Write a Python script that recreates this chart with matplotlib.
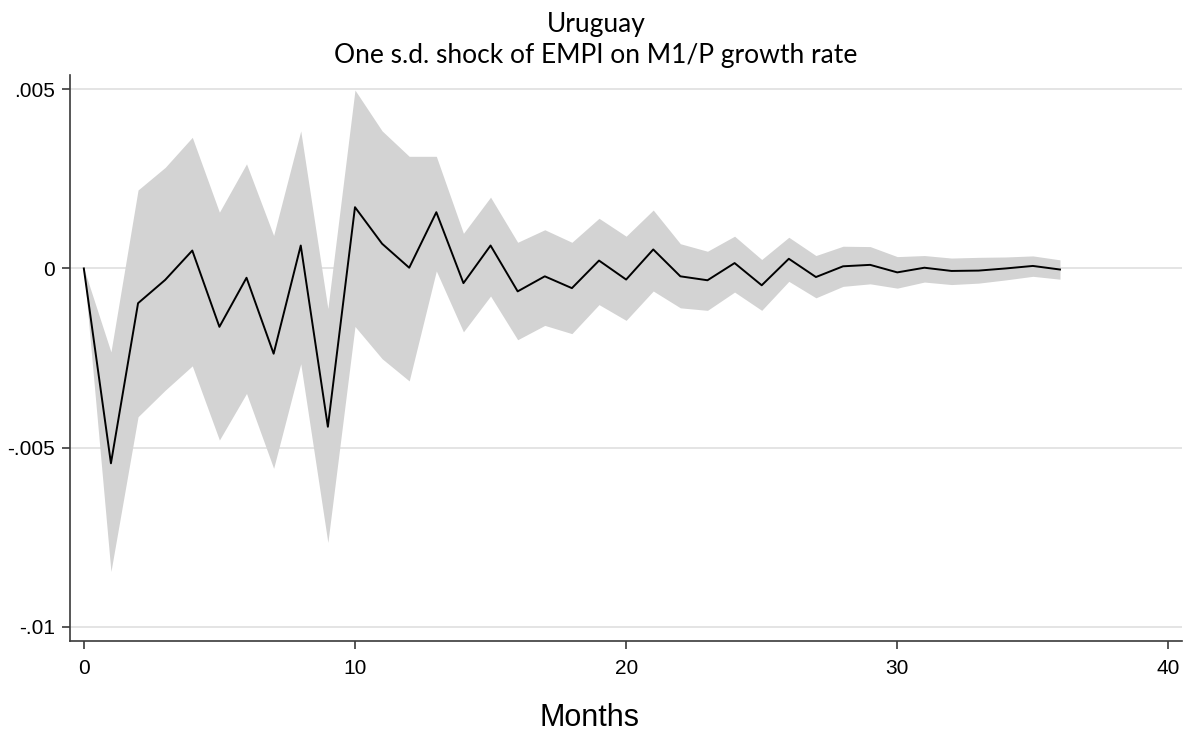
import numpy as np
import matplotlib.pyplot as plt

# impulse response of M1/P growth rate to one s.d. EMPI shock (Uruguay)
months = list(range(37))
irf = [0.0, -0.00544, -0.00097, -0.00032, 0.0005, -0.00163, -0.00026, -0.00238, 0.00064, -0.00442,
       0.00171, 0.00069, 0.00002, 0.00157, -0.00041, 0.00064, -0.00064, -0.00022, -0.00055, 0.00022,
       -0.00031, 0.00053, -0.00022, -0.00033, 0.00015, -0.00047, 0.00027, -0.00024, 0.00006, 0.0001,
       -0.00011, 0.00002, -0.00007, -0.00006, 0.0, 0.00007, -0.00003]
upper = [0.0, -0.00233, 0.00219, 0.00282, 0.00366, 0.00157, 0.00292, 0.00092, 0.00384, -0.00112,
         0.00498, 0.00384, 0.00313, 0.00313, 0.00098, 0.00199, 0.00073, 0.00108, 0.00073, 0.0014,
         0.0009, 0.00163, 0.00069, 0.00048, 0.0009, 0.00025, 0.00087, 0.00036, 0.00062, 0.00061,
         0.00033, 0.00036, 0.00029, 0.00031, 0.00032, 0.00035, 0.00024]
lower = [0.0, -0.00846, -0.00414, -0.0034, -0.00272, -0.00479, -0.00349, -0.00558, -0.00266, -0.00765,
         -0.00162, -0.00252, -0.00314, -0.00007, -0.00177, -0.00077, -0.00199, -0.00159, -0.00182, -0.00101,
         -0.00145, -0.00063, -0.0011, -0.00117, -0.00066, -0.00117, -0.00036, -0.00082, -0.0005, -0.00043,
         -0.00055, -0.00038, -0.00045, -0.00041, -0.00032, -0.00022, -0.0003]

xticks = [0, 10, 20, 30, 40]
yticks = [0.005, 0, -0.005, -0.01]
ylabels = ['.005', '0', '-.005', '-.01']

plt.rcParams['font.family'] = ['Liberation Sans', 'DejaVu Sans']

fig = plt.figure(figsize=(11.92, 7.42), dpi=100)
ax = fig.add_axes([70 / 1192, 1 - 641 / 742, 1112 / 1192, 566 / 742])

ax.fill_between(months, lower, upper, color='#d3d3d3', linewidth=0, zorder=2)
ax.plot(months, irf, color='black', linewidth=1.4, zorder=3)

ax.set_xlim(-0.51, 40.5)
ax.set_ylim(-0.0104, 0.0054)
ax.set_xticks(xticks)
ax.set_yticks(yticks)
ax.set_yticklabels(ylabels)
ax.grid(axis='y', color='#dcdcdc', linewidth=1.1, zorder=1)
ax.grid(axis='x', visible=False)

for s in ['top', 'right']:
    ax.spines[s].set_visible(False)
for s in ['left', 'bottom']:
    ax.spines[s].set_color('#3a3a3a')
    ax.spines[s].set_linewidth(1.2)
ax.tick_params(axis='both', colors='#3a3a3a', labelcolor='black', labelsize=15,
               length=6, width=1.2, direction='out')
ax.tick_params(axis='x', pad=7)
ax.tick_params(axis='y', pad=5)

# x axis title, centred on the figure rather than the axes
fig.text(590 / 1192, 1 - 726 / 742, 'Months', ha='center', va='baseline', fontsize=22)

tfont = ['Lato', 'DejaVu Sans']
fig.text(0.5, 1 - 32 / 742, 'Uruguay', ha='center', va='baseline', fontsize=19, family=tfont)
fig.text(0.5, 1 - 63 / 742, 'One s.d. shock of EMPI on M1/P growth rate', ha='center', va='baseline',
         fontsize=19, family=tfont)

fig.savefig('out.png', dpi=100)
